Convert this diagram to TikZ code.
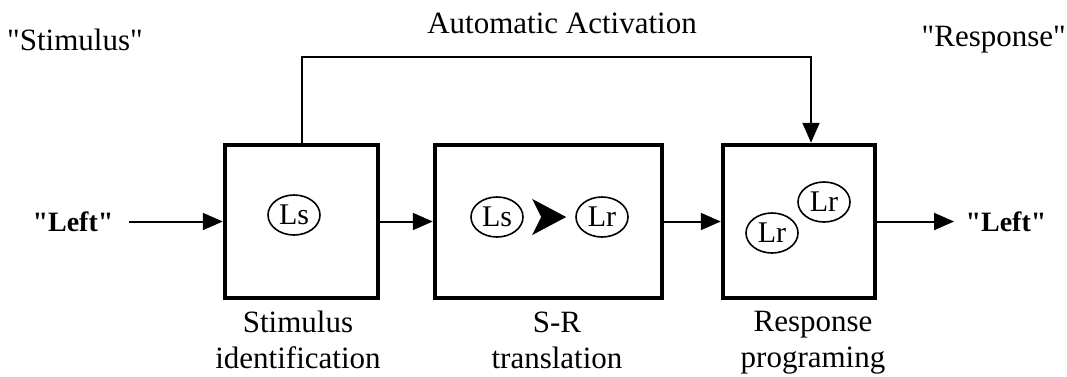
\documentclass[tikz,border=0pt]{standalone}
\usepackage{fontspec}
\setmainfont{Liberation Serif}
\usepackage{tikz}
\usetikzlibrary{arrows.meta,positioning,shapes.geometric}
\tikzset{
  stagebox/.style={draw=black, line width=4.5pt, rectangle, minimum height=153pt, inner sep=0pt, fill=none},
  codeoval/.style={draw=black, line width=1.6pt, ellipse, minimum width=52pt, minimum height=40pt, inner sep=0pt, font=\fontsize{30}{30}\selectfont},
  signal/.style={-{Triangle[length=20pt,width=17pt]}, line width=2pt, draw=black},
  stagelabel/.style={align=center, font=\fontsize{31}{36}\selectfont},
  wordin/.style={anchor=base, font=\fontsize{28}{32}\selectfont\bfseries}
}
\newcommand{\qq}[1]{\textquotedbl#1\textquotedbl}
\begin{document}
\begin{tikzpicture}[x=1pt, y=-1pt, font=\fontsize{31}{36}\selectfont]
  \useasboundingbox (0,0) rectangle (1067,376);
  \node[stagebox, minimum width=153pt] (ident) at (301.5,221.5) {};
  \node[stagebox, minimum width=227pt] (trans) at (548.5,221.5) {};
  \node[stagebox, minimum width=152pt] (prog) at (799,221.5) {};
  % codes inside the stages
  \node[codeoval] (ls1) at (294,215) {Ls};
  \node[codeoval] (ls2) at (497,217) {Ls};
  \node[codeoval] (lr2) at (602,217) {Lr};
  \node[codeoval] (lr3a) at (824,202) {Lr};
  \node[codeoval] (lr3b) at (772,233) {Lr};
  \draw[-{Stealth[length=34pt,width=36pt,inset=9pt]}, line width=2pt, shorten <=19pt, shorten >=9pt] (ls2) -- (lr2);
  % stage names
  \node[stagelabel] (identlab) at (298,340) {Stimulus\\identification};
  \node[stagelabel] (translab) at (557,340) {S-R\\translation};
  \node[stagelabel] (proglab) at (813,343) {Response\\programing};
  % outer texts
  \node[anchor=base] (auto) at (562,33) {Automatic Activation};
  \node[anchor=base west, inner sep=0pt] (stimq) at (7,50) {\qq{Stimulus}};
  \node[anchor=base east, inner sep=0pt] (respq) at (1066,46) {\qq{Response}};
  \node[wordin] (leftin) at (73,231) {\qq{Left}};
  \node[wordin] (leftout) at (1006,231) {\qq{Left}};
  % connectors
  \coordinate (bend) at (811,57);
  \draw[signal] (leftin.east |- ident.west) ++(12pt,0) -- (ident.west);
  \draw[signal] (ident.east) -- (trans.west);
  \draw[signal] (trans.east) -- (prog.west);
  \draw[signal, shorten >=8pt] (prog.east) -- (leftout.west |- prog.east);
  \draw[signal] (ident.north) |- (bend) -- (bend |- prog.north);
\end{tikzpicture}
\end{document}
